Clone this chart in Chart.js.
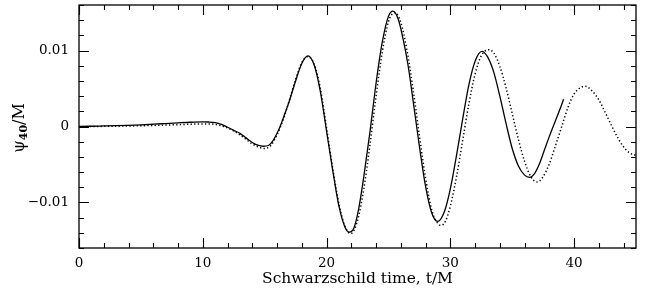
<!DOCTYPE html>
<html>
<head>
<meta charset="utf-8">
<script src="https://cdn.jsdelivr.net/npm/chart.js@4/dist/chart.umd.min.js"></script>
<style>
  html, body { margin: 0; padding: 0; background: #fff; }
  #wrap { width: 646px; height: 288px; }
</style>
</head>
<body>
<div id="wrap"><canvas id="psiChart" width="646" height="288"></canvas></div>
<script>
// data
const solidT = [0, 1, 2, 3, 4, 5, 6, 7, 8, 9, 10, 10.5, 11, 11.5, 12, 12.5, 13, 13.5, 14, 14.5, 14.9, 15.3, 15.7, 16, 16.25, 16.5, 17, 17.5, 18, 18.49, 19, 19.5, 20, 20.5, 21, 21.5, 21.83, 22.2, 22.6, 23, 23.5, 24, 24.5, 25, 25.36, 25.8, 26.2, 26.6, 27, 27.5, 28, 28.5, 28.97, 29.5, 30, 30.5, 31, 31.5, 32, 32.55, 33, 33.5, 34, 34.5, 35, 35.5, 36, 36.4, 36.8, 37.2, 37.6, 38, 38.5, 39, 39.15];
const solidV = [0, 0.00003, 0.00007, 0.00011, 0.00016, 0.00022, 0.0003, 0.00039, 0.00048, 0.00056, 0.0006, 0.00059, 0.00052, 0.00028, -0.0001, -0.0005, -0.0009, -0.0015, -0.0021, -0.0025, -0.0026, -0.0025, -0.0018, -0.0009, 0, 0.0011, 0.0034, 0.006, 0.0083, 0.0093, 0.0081, 0.0046, -0.0006, -0.0058, -0.0105, -0.0133, -0.0139, -0.0134, -0.0108, -0.0067, -0.0008, 0.0057, 0.0111, 0.0145, 0.0152, 0.0141, 0.0114, 0.0079, 0.0033, -0.0026, -0.0079, -0.0114, -0.0125, -0.0113, -0.0082, -0.0038, 0.001, 0.0055, 0.0086, 0.0099, 0.0092, 0.0072, 0.004, 0.0004, -0.0029, -0.0052, -0.0064, -0.0067, -0.0062, -0.0049, -0.0031, -0.0013, 0.0008, 0.0029, 0.0036];

const dottedT = [0, 2, 4, 6, 8, 9, 10, 10.5, 11, 11.5, 12, 12.5, 13, 13.5, 14, 14.5, 15, 15.5, 16, 16.5, 17, 17.5, 18, 18.45, 19, 19.5, 20, 20.5, 21, 21.5, 21.96, 22.5, 23, 23.5, 24, 24.5, 25, 25.5, 26, 26.5, 27, 27.5, 28, 28.5, 29, 29.27, 29.6, 30, 30.5, 31, 31.5, 32, 32.5, 33.09, 33.5, 34, 34.5, 35, 35.5, 36, 36.5, 37, 37.5, 38, 38.5, 39, 39.5, 40, 40.5, 40.9, 41.5, 42, 42.5, 43, 43.5, 44, 44.5, 45];
const dottedV = [0, 0.00002, 0.00007, 0.00014, 0.00024, 0.0003, 0.00034, 0.00034, 0.00028, 0.0001, -0.0002, -0.0006, -0.0011, -0.0017, -0.0023, -0.0027, -0.0029, -0.0025, -0.0011, 0.0009, 0.0035, 0.0062, 0.0084, 0.0092, 0.0082, 0.005, -0.0002, -0.0055, -0.0102, -0.0132, -0.0141, -0.0124, -0.0083, -0.0025, 0.004, 0.0098, 0.0138, 0.015, 0.0137, 0.01, 0.0048, -0.0012, -0.0068, -0.011, -0.0128, -0.013, -0.0125, -0.0105, -0.0066, -0.0018, 0.003, 0.0069, 0.0093, 0.0101, 0.0097, 0.0079, 0.0051, 0.0017, -0.0017, -0.0046, -0.0066, -0.0073, -0.0066, -0.0049, -0.0025, 0, 0.0025, 0.0043, 0.0051, 0.0053, 0.0046, 0.0035, 0.0019, 0.0002, -0.0014, -0.0027, -0.0035, -0.0038];

const xTicks = [0, 10, 20, 30, 40];
const xTickLabels = ['0', '10', '20', '30', '40'];
const yTicks = [-0.01, 0, 0.01];
const yTickLabels = ['\u22120.01', '0', '0.01'];
const xRange = [0, 45];
const yRange = [-0.016, 0.016];

const serif = '"DejaVu Serif", "Liberation Serif", serif';

function toPoints(ts, vs) {
  return ts.map((t, i) => ({ x: t, y: vs[i] }));
}

// frame + inward ticks on all four sides
const framePlugin = {
  id: 'frame',
  afterDatasetsDraw(chart) {
    const { ctx, chartArea: a, scales } = chart;
    const xs = scales.x, ys = scales.y;
    ctx.save();
    ctx.strokeStyle = '#000';
    ctx.lineWidth = 1.3;
    ctx.strokeRect(a.left, a.top, a.right - a.left, a.bottom - a.top);
    ctx.lineWidth = 1.1;
    ctx.beginPath();
    for (let t = xRange[0]; t <= xRange[1] + 1e-9; t += 2) {
      const px = Math.round(xs.getPixelForValue(t)) + 0.5;
      const len = (t % 10 === 0) ? 10 : 5;
      ctx.moveTo(px, a.bottom); ctx.lineTo(px, a.bottom - len);
      ctx.moveTo(px, a.top); ctx.lineTo(px, a.top + len);
    }
    for (let k = -8; k <= 8; k++) {
      const v = k * 0.002;
      const py = Math.round(ys.getPixelForValue(v)) + 0.5;
      const len = (k % 5 === 0) ? 10 : 5;
      ctx.moveTo(a.left, py); ctx.lineTo(a.left + len, py);
      ctx.moveTo(a.right, py); ctx.lineTo(a.right - len, py);
    }
    ctx.stroke();
    ctx.restore();
  }
};

// rotated y title with bold subscript
const yTitlePlugin = {
  id: 'ytitle',
  afterDraw(chart) {
    const { ctx } = chart;
    ctx.save();
    ctx.translate(24, 128);
    ctx.rotate(-Math.PI / 2);
    ctx.fillStyle = '#000';
    ctx.textBaseline = 'alphabetic';
    const main = '16px ' + serif;
    const sub = 'bold 11px ' + serif;
    ctx.font = main;
    const w1 = ctx.measureText('\u03c8').width;
    ctx.font = sub;
    const w2 = ctx.measureText('40').width;
    ctx.font = main;
    const w3 = ctx.measureText('/M').width;
    let x = -(w1 + w2 + w3) / 2;
    ctx.font = main;
    ctx.fillText('\u03c8', x, 0); x += w1;
    ctx.font = sub;
    ctx.fillText('40', x, 3); x += w2;
    ctx.font = main;
    ctx.fillText('/M', x, 0);
    ctx.restore();
  }
};

new Chart(document.getElementById('psiChart'), {
  type: 'line',
  data: {
    datasets: [
      {
        label: 'dotted',
        data: toPoints(dottedT, dottedV),
        borderColor: '#000',
        borderWidth: 1.5,
        borderDash: [1.3, 2.3],
        pointRadius: 0,
        cubicInterpolationMode: 'monotone',
        fill: false
      },
      {
        label: 'solid',
        data: toPoints(solidT, solidV),
        borderColor: '#000',
        borderWidth: 1.3,
        pointRadius: 0,
        cubicInterpolationMode: 'monotone',
        fill: false
      }
    ]
  },
  options: {
    responsive: false,
    animation: false,
    devicePixelRatio: 1,
    layout: { padding: { top: 5, right: 10, left: 0, bottom: 0 } },
    plugins: {
      legend: { display: false },
      tooltip: { enabled: false }
    },
    scales: {
      x: {
        type: 'linear',
        min: xRange[0],
        max: xRange[1],
        grid: { display: false, drawTicks: false },
        border: { display: false },
        afterBuildTicks: s => { s.ticks = xTicks.map(v => ({ value: v })); },
        afterFit: s => { s.height = 40; s.paddingLeft = 0; s.paddingRight = 0; },
        ticks: {
          color: '#000',
          padding: 7,
          maxRotation: 0,
          font: { family: serif, size: 13.5 },
          callback: v => xTickLabels[xTicks.indexOf(v)]
        },
        title: {
          display: true,
          text: 'Schwarzschild time, t/M',
          color: '#000',
          padding: { top: 0, bottom: 0 },
          font: { family: serif, size: 15.5 }
        }
      },
      y: {
        type: 'linear',
        min: yRange[0],
        max: yRange[1],
        grid: { display: false, drawTicks: false },
        border: { display: false },
        afterBuildTicks: s => { s.ticks = yTicks.map(v => ({ value: v })); },
        afterFit: s => { s.width = 79; s.paddingTop = 0; s.paddingBottom = 0; },
        ticks: {
          color: '#000',
          padding: 10,
          font: { family: serif, size: 13.5 },
          callback: v => {
            const i = yTicks.findIndex(t => Math.abs(t - v) < 1e-9);
            return i >= 0 ? yTickLabels[i] : '';
          }
        }
      }
    }
  },
  plugins: [framePlugin, yTitlePlugin]
});
</script>
</body>
</html>
